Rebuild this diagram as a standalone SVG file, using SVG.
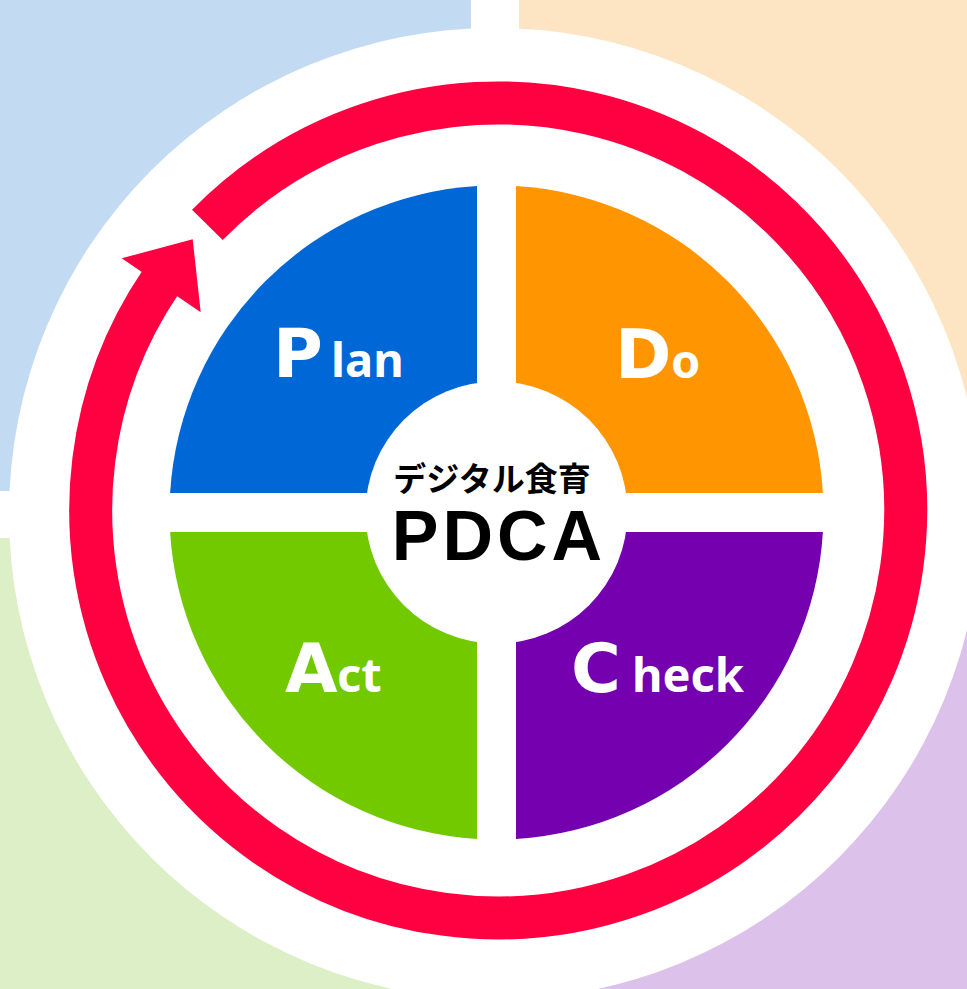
<svg xmlns="http://www.w3.org/2000/svg" width="967" height="989" viewBox="0 0 967 989">
<style>
.lbl{font-weight:700;fill:#ffffff}
.big{font-family:"DejaVu Sans","Noto Sans",sans-serif;font-size:68px}
.small{font-family:"Noto Sans","Open Sans",sans-serif;font-size:47px}
.jp{font-family:"Noto Sans CJK JP","Noto Sans",sans-serif;font-weight:700;font-size:33px;fill:#000}
.pdca{font-family:"Liberation Sans","Arial",sans-serif;font-weight:700;font-size:70px;fill:#000}
</style>
<g id="background">
<rect x="0" y="0" width="471" height="491" fill="#c2dbf3"/>
<rect x="519" y="0" width="448" height="491" fill="#fde5c4"/>
<rect x="0" y="538" width="471" height="451" fill="#dcefc6"/>
<rect x="519" y="538" width="448" height="451" fill="#dcc2ea"/>
<circle cx="495" cy="514" r="486" fill="#ffffff"/>
</g>
<g id="connectors">
<path d="M207.4 224.9 A407.5 407.5 0 1 1 161.1 281.4" fill="none" stroke="#ff0040" stroke-width="43"/>
<polygon points="121.7,258.3 192.7,239.3 200.7,312.3" fill="#ff0040"/>
</g>
<g id="plan">
<path d="M477 493 V186.1 A327 327 0 0 0 170.1 493 Z" fill="#0068d6"/>
<text class="lbl" y="377"><tspan class="big" x="273">P</tspan><tspan class="small" x="331">lan</tspan></text>
</g>
<g id="do">
<path d="M516 493 V186.1 A327 327 0 0 1 822.9 493 Z" fill="#ff9500"/>
<text class="lbl" y="378"><tspan class="big" x="615">D</tspan><tspan class="small" x="671">o</tspan></text>
</g>
<g id="act">
<path d="M477 532 H170.1 A327 327 0 0 0 477 838.9 Z" fill="#72c900"/>
<text class="lbl" y="692"><tspan class="big" x="285">A</tspan><tspan class="small" x="337">ct</tspan></text>
</g>
<g id="check">
<path d="M516 532 V838.9 A327 327 0 0 0 822.9 532 Z" fill="#7400b0"/>
<text class="lbl" y="692"><tspan class="big" x="571">C</tspan><tspan class="small" x="632">heck</tspan></text>
</g>
<g id="center">
<circle cx="496.5" cy="512.5" r="131" fill="#ffffff"/>
<text class="jp" x="492" y="491" text-anchor="middle">デジタル食育</text>
<text class="pdca" x="499" y="560" text-anchor="middle" letter-spacing="4">PDCA</text>
</g>
</svg>
